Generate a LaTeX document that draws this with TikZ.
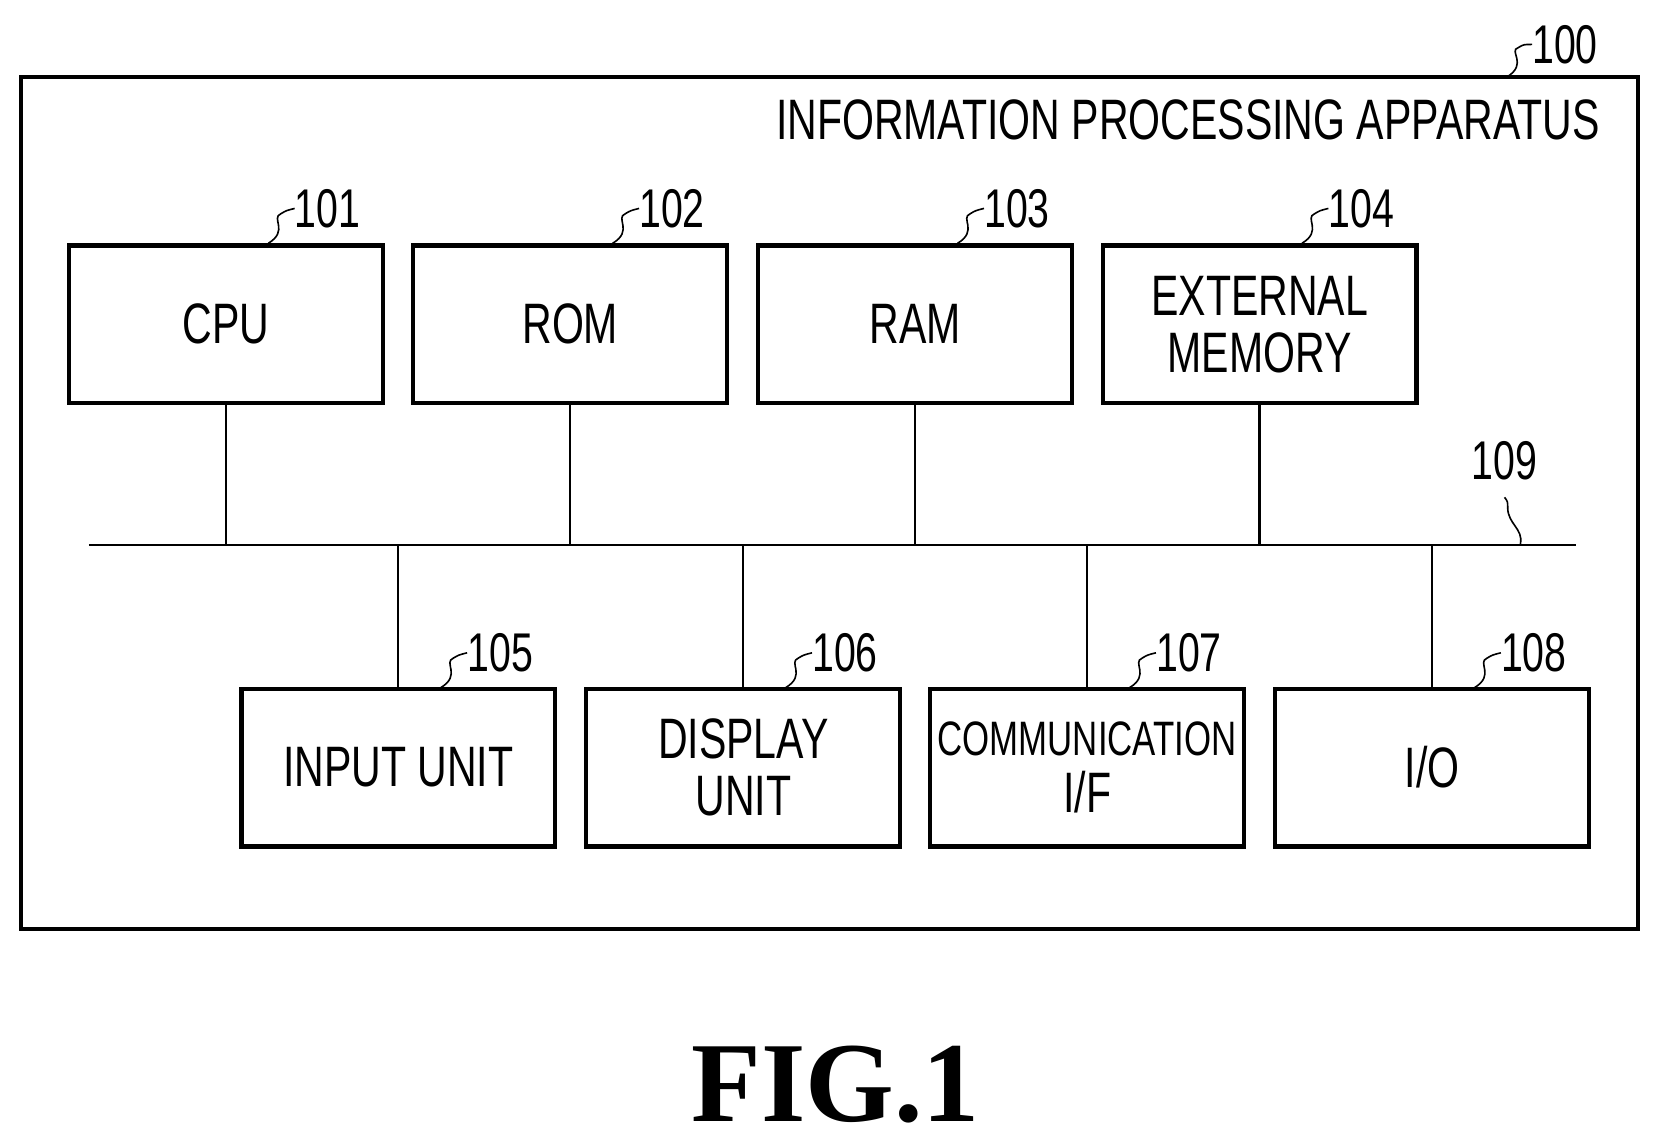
\documentclass[tikz,border=0pt]{standalone}
\usepackage{fontspec}
\setmainfont{Liberation Serif}
\newfontfamily\nar[FakeStretch=0.72]{Liberation Sans}
\begin{document}
\begin{tikzpicture}[x=0.03cm,y=-0.03cm,
 box/.style={draw,line width=3.4pt,minimum width=8.9cm,minimum height=4.47cm,inner sep=0pt,align=center,font=\nar\fontsize{46}{46}\selectfont},
 num/.style={font=\nar\fontsize{44}{48}\selectfont,inner sep=0pt,anchor=west},
 sq/.style={line width=1.3pt},
 bus/.style={line width=1.8pt}]
\useasboundingbox (0,0) rectangle (1568,1082);
\node[draw,line width=3.4pt,minimum width=45.84cm,minimum height=24.15cm,inner sep=0pt] (outer) at (784,475.5) {};
\node[font=\nar\fontsize{46}{50}\selectfont,anchor=east,inner sep=0pt] (title) at (1512,113) {INFORMATION PROCESSING APPARATUS};
\node[num] (n100) at (1448,42) {100};
\draw[sq] (1424,73) .. controls (1445,60) and (1425,48) .. (1435,45) .. controls (1440,42) .. (n100.west);
\foreach \n/\x/\t/\k in {cpu/213.5/CPU/101, rom/539/ROM/102, ram/865/RAM/103, ext/1190.5/{EXTERNAL\\MEMORY}/104}{
 \node[box] (\n) at (\x,306.5) {\t};
 \node[num] (l\k) at (\x+65,197) {\k};
 \draw[sq] (\x+40,230) .. controls (\x+60,218) and (\x+42,206) .. (\x+52,202) .. controls (\x+57,199) .. (l\k.west);
}
\foreach \n/\x/\t/\k in {inp/376.5/{INPUT UNIT}/105, dsp/702.5/{DISPLAY\\UNIT}/106, com/1027.5/{{\fontsize{39}{42}\selectfont COMMUNICATION}\\I/F}/107, io/1353.5/{I/O}/108}{
 \node[box] (\n) at (\x,725.5) {\t};
 \node[num] (l\k) at (\x+65,617) {\k};
 \draw[sq] (\x+40,650) .. controls (\x+60,638) and (\x+42,626) .. (\x+52,622) .. controls (\x+57,619) .. (l\k.west);
}
\coordinate (bl) at (84,515); \coordinate (br) at (1490,515);
\draw[bus] (bl) -- (br);
\foreach \n in {cpu,rom,ram,ext}{\draw[bus] (\n.south) -- (\n.south |- bl);}
\foreach \n in {inp,dsp,com,io}{\draw[bus] (\n.north) -- (\n.north |- bl);}
\node[font=\nar\fontsize{44}{48}\selectfont,inner sep=0pt] (l109) at (1422,435) {109};
\coordinate (b109) at (1437,514);
\draw[sq] (b109) .. controls (1440,500) and (1425,495) .. (1425,480) .. controls (1425,474) .. (1422,470);
\node[font=\bfseries\fontsize{92}{100}\selectfont,inner sep=0pt] (fig) at (790,1025) {FIG.1};
\end{tikzpicture}
\end{document}
